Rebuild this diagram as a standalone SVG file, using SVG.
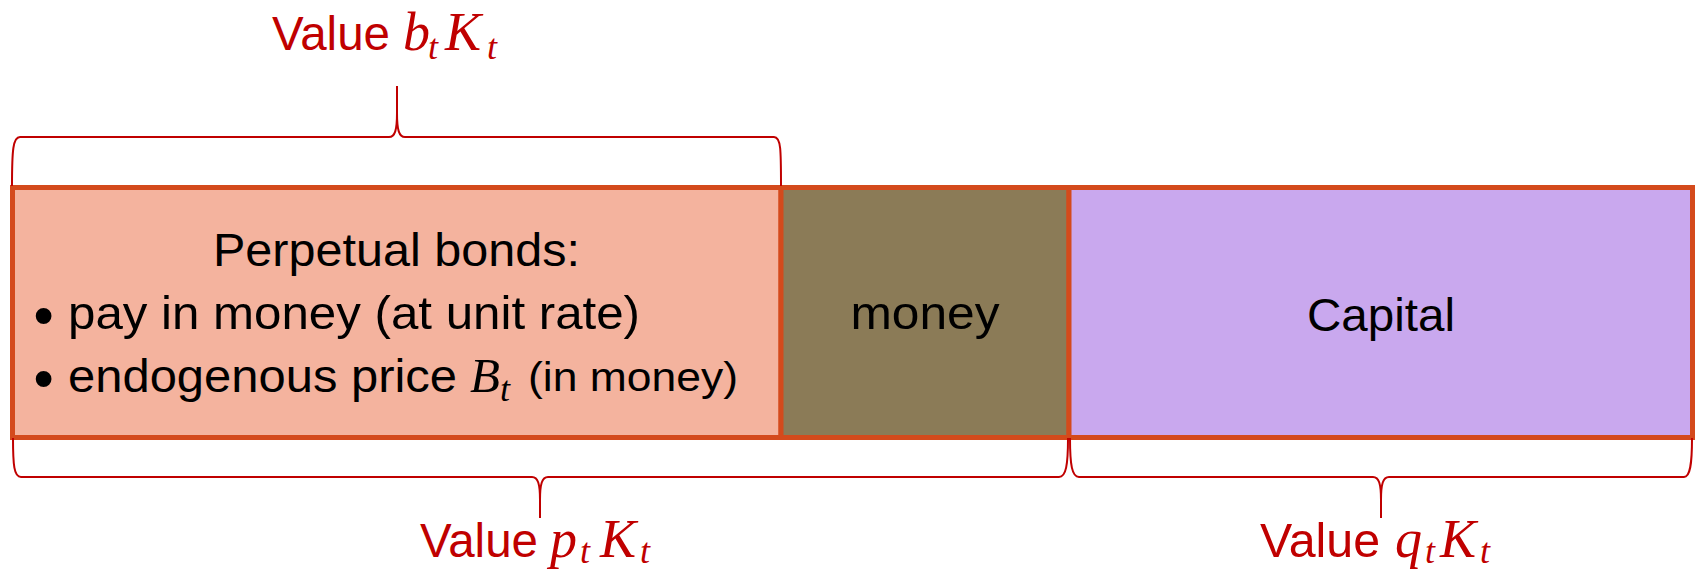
<svg xmlns="http://www.w3.org/2000/svg" width="1696" height="570" viewBox="0 0 1696 570">
  <style>
    .box { stroke: #D44A1C; stroke-width: 5; }
    .body { font-family: "Liberation Sans", Arial, sans-serif; font-size: 47px; fill: #000; }
    .small { font-size: 41px; }
    .bullet { font-family: "Liberation Sans", Arial, sans-serif; font-size: 55px; font-weight: bold; fill: #000; }
    .label { font-family: "Liberation Sans", Arial, sans-serif; font-size: 48px; fill: #C00000; }
    .math { font-family: "Liberation Serif", "Times New Roman", serif; font-style: italic; font-size: 54px; }
    .mathb { font-family: "Liberation Serif", "Times New Roman", serif; font-style: italic; font-size: 49px; fill: #000; }
    .sub { font-family: "Liberation Serif", "Times New Roman", serif; font-style: italic; font-size: 36px; }
    .brace { fill: none; stroke: #C00000; stroke-width: 2; }
  </style>

  <!-- bonds segment -->
  <g id="bonds">
    <rect class="box" x="12.5" y="187.5" width="768.5" height="250" fill="#F4B39E"/>
    <text class="body" x="213" y="266" textLength="367" lengthAdjust="spacingAndGlyphs">Perpetual bonds:</text>
    <text class="bullet" x="34" y="334">•</text>
    <text class="body" x="68" y="329" textLength="572" lengthAdjust="spacingAndGlyphs">pay in money (at unit rate)</text>
    <text class="bullet" x="34" y="397">•</text>
    <text class="body" x="68" y="392" textLength="389" lengthAdjust="spacingAndGlyphs">endogenous price</text>
    <text class="mathb" x="470" y="392">B</text>
    <text class="sub" x="500" y="401" fill="#000">t</text>
    <text class="body small" x="528" y="391" textLength="210" lengthAdjust="spacingAndGlyphs">(in money)</text>
  </g>

  <!-- money segment -->
  <g id="money">
    <rect class="box" x="781" y="187.5" width="288" height="250" fill="#8B7B57"/>
    <text class="body" x="925" y="329" text-anchor="middle" textLength="149" lengthAdjust="spacingAndGlyphs">money</text>
  </g>

  <!-- capital segment -->
  <g id="capital">
    <rect class="box" x="1069" y="187.5" width="623.5" height="250" fill="#C9A8EE"/>
    <text class="body" x="1381" y="331" text-anchor="middle" textLength="148" lengthAdjust="spacingAndGlyphs">Capital</text>
  </g>

  <!-- value braces -->
  <g id="braces">
    <path class="brace" d="M 12 186 C 12 150 13 137 20 137 L 389 137 C 395 137 397 130 397 113 L 397 86 M 397 113 C 397 130 399 137 405 137 L 774 137 C 781 137 781 150 781 186"/>
    <path class="brace" d="M 13 438 C 13 465 14 477 21 477 L 532 477 C 538 477 540 484 540 500 L 540 518 M 540 500 C 540 484 542 477 548 477 L 1059 477 C 1066 477 1068 465 1068 438"/>
    <path class="brace" d="M 1070 438 C 1070 465 1072 477 1079 477 L 1373 477 C 1379 477 1381 484 1381 500 L 1381 518 M 1381 500 C 1381 484 1383 477 1389 477 L 1684 477 C 1690 477 1692 465 1692 438"/>
  </g>

  <!-- value labels -->
  <g id="label-bonds">
    <text class="label" x="272" y="50" textLength="118" lengthAdjust="spacingAndGlyphs">Value</text>
    <text class="label math" x="403" y="50">b</text>
    <text class="label sub" x="428" y="59">t</text>
    <text class="label math" x="445" y="50">K</text>
    <text class="label sub" x="487" y="59">t</text>
  </g>
  <g id="label-nominal">
    <text class="label" x="420" y="557" textLength="118" lengthAdjust="spacingAndGlyphs">Value</text>
    <text class="label math" x="550" y="557">p</text>
    <text class="label sub" x="580" y="563">t</text>
    <text class="label math" x="600" y="557">K</text>
    <text class="label sub" x="640" y="563">t</text>
  </g>
  <g id="label-capital">
    <text class="label" x="1260" y="557" textLength="120" lengthAdjust="spacingAndGlyphs">Value</text>
    <text class="label math" x="1395" y="557">q</text>
    <text class="label sub" x="1425" y="563">t</text>
    <text class="label math" x="1440" y="557">K</text>
    <text class="label sub" x="1480" y="563">t</text>
  </g>
</svg>
